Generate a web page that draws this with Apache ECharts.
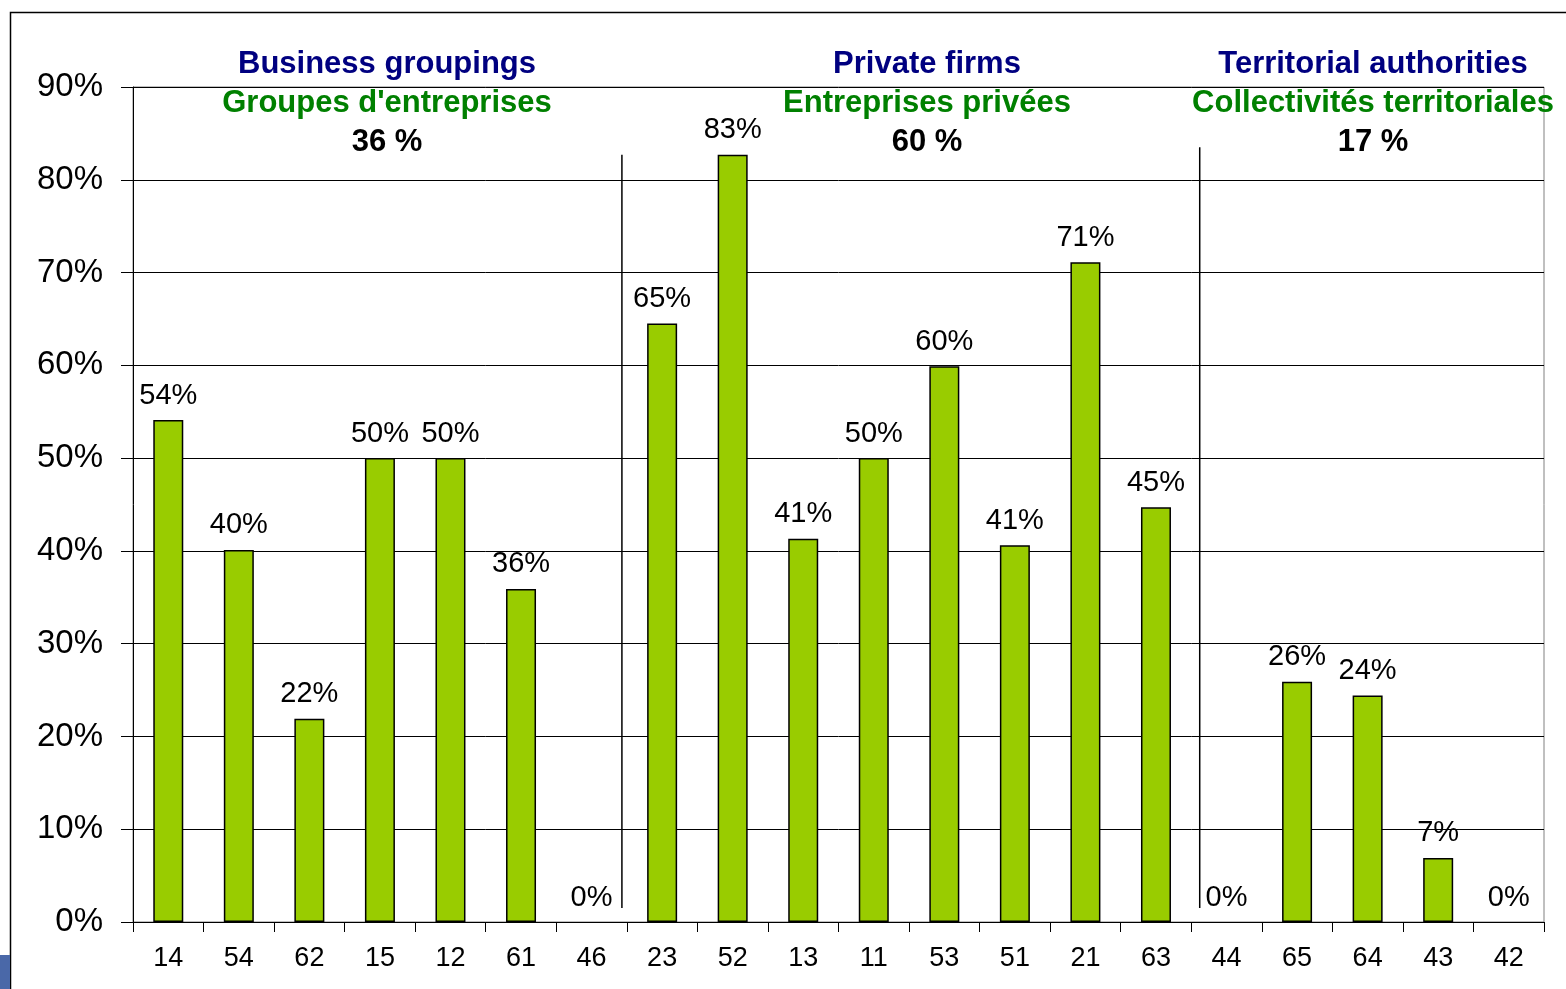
<!DOCTYPE html>
<html>
<head>
<meta charset="utf-8">
<script src="https://cdn.jsdelivr.net/npm/echarts@6/dist/echarts.min.js"></script>
<style>html,body{margin:0;padding:0;background:#fff}#c{width:1566px;height:989px}</style>
</head>
<body>
<div id="c"></div>
<script>
const categories = ['14','54','62','15','12','61','46','23','52','13','11','53','51','21','63','44','65','64','43','42'];
const values = [54.1, 40.1, 21.9, 50, 50, 35.9, 0, 64.5, 82.7, 41.3, 50, 59.9, 40.6, 71.1, 44.7, 0, 25.9, 24.4, 6.9, 0];
const groupEn = ['Business groupings', 'Private firms', 'Territorial authorities'];
const groupFr = ["Groupes d'entreprises", 'Entreprises privées', 'Collectivités territoriales'];
const groupShare = ['36 %', '60 %', '17 %'];
const groupCenterX = [387, 927, 1373];
// separator positions (in category units along the axis) and their vertical extents (%)
const separatorX = [6.93, 15.12];
const separatorTop = [82.7, 83.5];
const separatorBottom = [1.5, 1.5];
const yTicks = [0, 10, 20, 30, 40, 50, 60, 70, 80, 90];

const chart = echarts.init(document.getElementById('c'), null, {renderer: 'canvas'});
const FONT = '"Liberation Sans", Arial, sans-serif';

const graphics = [
  {type: 'rect', shape: {x: 10.5, y: 12.5, width: 1600, height: 1000}, style: {fill: 'none', stroke: '#000', lineWidth: 1.5}, silent: true},
  {type: 'rect', shape: {x: 0, y: 955, width: 10, height: 34}, style: {fill: '#4a68a8'}, silent: true}
];
groupEn.forEach((t, i) => {
  graphics.push({type: 'text', x: groupCenterX[i], y: 64, style: {text: t, fill: '#000080', font: 'bold 31px ' + FONT, align: 'center', verticalAlign: 'middle'}, z: 10});
  graphics.push({type: 'text', x: groupCenterX[i], y: 103, style: {text: groupFr[i], fill: '#008000', font: 'bold 31px ' + FONT, align: 'center', verticalAlign: 'middle'}, z: 10});
  graphics.push({type: 'text', x: groupCenterX[i], y: 142, style: {text: groupShare[i], fill: '#000', font: 'bold 31px ' + FONT, align: 'center', verticalAlign: 'middle'}, z: 10});
});

const sepSeries = separatorX.map((x, i) => ({
  type: 'line',
  xAxisIndex: 1,
  data: [[x, separatorBottom[i]], [x, separatorTop[i]]],
  symbol: 'none',
  lineStyle: {color: '#000', width: 1.5},
  silent: true,
  animation: false,
  z: 5
}));

const barData = values.map(v => v === 0 ? {value: v, itemStyle: {borderWidth: 0, opacity: 0}, label: {opacity: 1}} : v);

chart.setOption({
  animation: false,
  backgroundColor: '#fff',
  grid: {left: 133, right: 22, top: 87, bottom: 67, show: true, borderColor: '#808080', borderWidth: 1, backgroundColor: 'transparent'},
  xAxis: [{
    type: 'category',
    data: categories,
    boundaryGap: true,
    axisLine: {lineStyle: {color: '#000', width: 1}},
    axisTick: {show: true, length: 10, lineStyle: {color: '#000'}},
    axisLabel: {color: '#000', fontSize: 27, fontFamily: FONT, margin: 23, interval: 0},
    splitLine: {show: false}
  }, {
    type: 'value',
    min: 0, max: categories.length,
    show: false
  }],
  yAxis: {
    type: 'value',
    min: 0, max: 90, interval: 10,
    axisLine: {show: true, lineStyle: {color: '#000', width: 1}},
    axisTick: {show: true, length: 12, lineStyle: {color: '#000'}},
    axisLabel: {color: '#000', fontSize: 33, fontFamily: FONT, margin: 30, padding: [6, 0, 0, 0], formatter: v => yTicks.includes(v) ? v + '%' : ''},
    splitLine: {show: true, lineStyle: {color: '#000', width: 1}}
  },
  series: [{
    type: 'bar',
    data: barData,
    barWidth: 30,
    itemStyle: {color: '#99cc00', borderColor: '#000', borderWidth: 1.5},
    label: {show: true, position: 'top', distance: 10, color: '#000', fontSize: 29, fontFamily: FONT, formatter: p => Math.round(p.value) + '%'},
    z: 3
  }].concat(sepSeries),
  graphic: graphics
});
</script>
</body>
</html>
